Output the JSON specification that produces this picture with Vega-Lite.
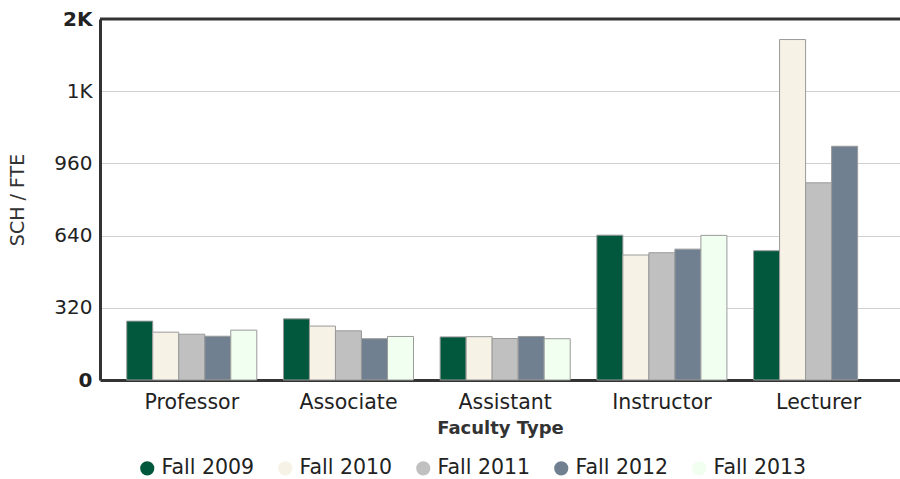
{
  "$schema": "https://vega.github.io/schema/vega-lite/v6.json",
  "width": 800,
  "height": 361,
  "autosize": {"type": "none"},
  "padding": {"left": 100, "top": 19, "right": 0, "bottom": 99},
  "config": {
    "view": {"stroke": null},
    "font": "DejaVu Sans",
    "axis": {"labelFont": "DejaVu Sans", "titleFont": "DejaVu Sans", "labelColor": "#222", "titleColor": "#333"},
    "legend": {"labelFont": "DejaVu Sans"}
  },
  "data": {
    "values": [
      {"type": "Professor", "term": "Fall 2009", "value": 261},
      {"type": "Professor", "term": "Fall 2010", "value": 212},
      {"type": "Professor", "term": "Fall 2011", "value": 203},
      {"type": "Professor", "term": "Fall 2012", "value": 194},
      {"type": "Professor", "term": "Fall 2013", "value": 221},
      {"type": "Associate", "term": "Fall 2009", "value": 271},
      {"type": "Associate", "term": "Fall 2010", "value": 239},
      {"type": "Associate", "term": "Fall 2011", "value": 218},
      {"type": "Associate", "term": "Fall 2012", "value": 183},
      {"type": "Associate", "term": "Fall 2013", "value": 193},
      {"type": "Assistant", "term": "Fall 2009", "value": 191},
      {"type": "Assistant", "term": "Fall 2010", "value": 192},
      {"type": "Assistant", "term": "Fall 2011", "value": 184},
      {"type": "Assistant", "term": "Fall 2012", "value": 193},
      {"type": "Assistant", "term": "Fall 2013", "value": 183},
      {"type": "Instructor", "term": "Fall 2009", "value": 642},
      {"type": "Instructor", "term": "Fall 2010", "value": 554},
      {"type": "Instructor", "term": "Fall 2011", "value": 564},
      {"type": "Instructor", "term": "Fall 2012", "value": 580},
      {"type": "Instructor", "term": "Fall 2013", "value": 641},
      {"type": "Lecturer", "term": "Fall 2009", "value": 573},
      {"type": "Lecturer", "term": "Fall 2010", "value": 1509},
      {"type": "Lecturer", "term": "Fall 2011", "value": 874},
      {"type": "Lecturer", "term": "Fall 2012", "value": 1036}
    ]
  },
  "layer": [
    {
      "mark": {"type": "bar", "stroke": "#9a9a9a", "strokeWidth": 1},
      "encoding": {
        "x": {
          "field": "type",
          "type": "nominal",
          "sort": ["Professor", "Associate", "Assistant", "Instructor", "Lecturer"],
          "scale": {"paddingInner": 0.17, "paddingOuter": 0.1375, "align": 0.62},
          "axis": {
            "title": "Faculty Type",
            "titleFontSize": 18,
            "titleFontWeight": "bold",
            "titlePadding": 7,
            "labelAngle": 0,
            "labelFontSize": 20.5,
            "labelPadding": 12,
            "ticks": false,
            "domainColor": "#333",
            "domainWidth": 3
          }
        },
        "xOffset": {
          "field": "term",
          "type": "nominal",
          "scale": {"paddingInner": 0, "paddingOuter": 0}
        },
        "y": {
          "field": "value",
          "type": "quantitative",
          "scale": {"domain": [0, 1600], "nice": false},
          "axis": {
            "title": "SCH / FTE",
            "titleFontSize": 19,
            "titleFontWeight": "normal",
            "titlePadding": 26,
            "values": [0, 320, 640, 960, 1280, 1600],
            "labelExpr": "datum.value >= 1000 ? format(datum.value / 1000, '.0f') + 'K' : format(datum.value, 'd')",
            "labelFontSize": 20,
            "labelFontWeight": {"condition": {"test": "datum.value == 0 || datum.value == 1600", "value": "bold"}, "value": "normal"},
            "labelPadding": 8,
            "ticks": false,
            "gridColor": "#d0d0d0",
            "gridWidth": 1,
            "domainColor": "#333",
            "domainWidth": 3
          }
        },
        "color": {
          "field": "term",
          "type": "nominal",
          "scale": {
            "domain": ["Fall 2009", "Fall 2010", "Fall 2011", "Fall 2012", "Fall 2013"],
            "range": ["#02583c", "#f6f2e6", "#c0c0c0", "#708090", "#f0fff0"]
          },
          "legend": {
            "title": null,
            "orient": "none",
            "direction": "horizontal",
            "legendX": 37,
            "legendY": 439,
            "symbolType": "circle",
            "symbolSize": 200,
            "symbolStrokeWidth": 0,
            "labelFontSize": 20.5,
            "labelColor": "#222",
            "labelOffset": 4,
            "columnPadding": 20,
            "padding": 0
          }
        }
      }
    },
    {
      "data": {"values": [{}]},
      "mark": {"type": "rule", "color": "#333", "strokeWidth": 3},
      "encoding": {"y": {"datum": 1600}}
    }
  ]
}
